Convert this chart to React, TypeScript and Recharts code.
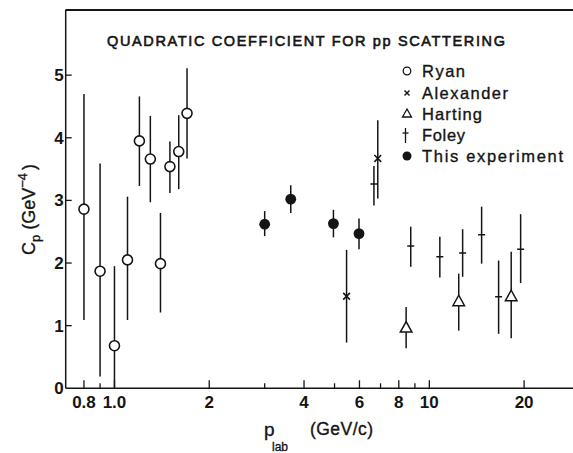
import React from 'react';
import { ScatterChart, Scatter, XAxis, YAxis, ErrorBar, ReferenceLine } from 'recharts';

// ---- data (p_lab in GeV/c, C_p in GeV^-4, error bar low / high) ----
const ryanP = [0.8, 0.9, 1.0, 1.1, 1.2, 1.3, 1.4, 1.5, 1.6, 1.7];
const ryanC = [2.86, 1.87, 0.68, 2.05, 3.95, 3.66, 1.99, 3.54, 3.78, 4.39];
const ryanLo = [1.09, 0.19, 0.0, 1.09, 3.23, 2.97, 1.21, 3.12, 3.18, 3.67];
const ryanHi = [4.7, 3.59, 1.95, 3.06, 4.66, 4.35, 2.8, 3.94, 4.36, 5.11];

const alexP = [5.46, 6.86];
const alexC = [1.47, 3.67];
const alexLo = [0.73, 3.03];
const alexHi = [2.21, 4.28];

const hartP = [8.44, 12.4, 18.2];
const hartC = [0.97, 1.39, 1.47];
const hartLo = [0.64, 0.92, 0.8];
const hartHi = [1.3, 1.83, 2.18];

const foleyP = [6.67, 8.73, 10.8, 12.76, 14.66, 16.6, 19.5];
const foleyC = [3.26, 2.27, 2.1, 2.16, 2.45, 1.46, 2.22];
const foleyLo = [2.92, 1.94, 1.77, 1.78, 1.99, 0.87, 1.68];
const foleyHi = [3.55, 2.58, 2.42, 2.54, 2.9, 2.04, 2.78];

const expP = [3.0, 3.63, 4.96, 5.98];
const expC = [2.62, 3.02, 2.63, 2.47];
const expLo = [2.43, 2.8, 2.41, 2.22];
const expHi = [2.83, 3.24, 2.85, 2.71];

const xDomain = [0.7, 28.6];
const yDomain = [0, 6.04];
const xTickValues = [0.8, 0.9, 1, 2, 3, 4, 5, 6, 7, 8, 9, 10, 20];
const xTickLabels = ['0.8', '', '1.0', '2', '', '4', '', '6', '', '8', '', '10', '20'];
const yTickValues = [0, 1, 2, 3, 4, 5];
const yTickLabels = ['0', '1', '2', '3', '4', '5'];

const legendNames = ['Ryan', 'Alexander', 'Harting', 'Foley', 'This experiment'];

const build = (p: number[], c: number[], lo: number[], hi: number[]) =>
  p.map((x, i) => ({ p: x, c: c[i], err: [c[i] - lo[i], hi[i] - c[i]] }));

const ryanData = build(ryanP, ryanC, ryanLo, ryanHi);
const alexData = build(alexP, alexC, alexLo, alexHi);
const hartData = build(hartP, hartC, hartLo, hartHi);
const foleyData = build(foleyP, foleyC, foleyLo, foleyHi);
const expData = build(expP, expC, expLo, expHi);

const INK = '#151515';
const FONT = '"Liberation Sans", Arial, sans-serif';

const labelFor = (v: number) => {
  const i = xTickValues.indexOf(v);
  return i >= 0 ? xTickLabels[i] : '';
};

const BottomTick = (props: any) => {
  const { x, y, payload } = props;
  const lab = labelFor(payload.value);
  const major = lab !== '';
  return (
    <g>
      <line x1={x} x2={x} y1={y} y2={y - (major ? 8 : 5)} stroke={INK} strokeWidth={1.3} />
      {major && (
        <text x={x} y={y + 20} textAnchor="middle" fontFamily={FONT} fontWeight="bold" fontSize={17} fill={INK}>
          {lab}
        </text>
      )}
    </g>
  );
};

const LeftTick = (props: any) => {
  const { x, y, payload } = props;
  const i = yTickValues.indexOf(payload.value);
  return (
    <g>
      {payload.value > 0 && <line x1={x} x2={x + 6} y1={y} y2={y} stroke={INK} strokeWidth={1.3} />}
      <text x={x - 2} y={y + 6} textAnchor="end" fontFamily={FONT} fontWeight="bold" fontSize={17} fill={INK}>
        {i >= 0 ? yTickLabels[i] : ''}
      </text>
    </g>
  );
};

const OpenCircle = (props: any) => (
  <circle cx={props.cx} cy={props.cy} r={5} fill="#fff" stroke={INK} strokeWidth={1.6} />
);
const FilledCircle = (props: any) => <circle cx={props.cx} cy={props.cy} r={5.4} fill={INK} stroke="none" />;
const Cross = (props: any) => {
  const { cx, cy } = props;
  const s = 3.4;
  return (
    <g stroke={INK} strokeWidth={1.6}>
      <line x1={cx - s} y1={cy - s} x2={cx + s} y2={cy + s} />
      <line x1={cx - s} y1={cy + s} x2={cx + s} y2={cy - s} />
    </g>
  );
};
const Triangle = (props: any) => {
  const { cx, cy } = props;
  return (
    <polygon
      points={`${cx},${cy - 6} ${cx - 5.8},${cy + 4.5} ${cx + 5.8},${cy + 4.5}`}
      fill="#fff"
      stroke={INK}
      strokeWidth={1.5}
    />
  );
};
const Dagger = (props: any) => {
  const { cx, cy } = props;
  return <line x1={cx - 3.5} x2={cx + 3.5} y1={cy} y2={cy} stroke={INK} strokeWidth={1.5} />;
};

const errProps = { dataKey: 'err', width: 0, stroke: INK, strokeWidth: 1.5, direction: 'y' as const };

export default function App() {
  const legendBase = [77, 99, 120, 141, 162];
  const legendWidths = [43, 86, 60, 43, 141];
  const heavy = { stroke: INK, strokeWidth: 0.35 };
  return (
    <div
      style={{
        position: 'absolute',
        left: 0,
        top: 0,
        width: 573,
        height: 453,
        overflow: 'hidden',
        background: '#fff',
      }}
    >
      <ScatterChart width={573} height={453} margin={{ top: 2, right: 0, bottom: 34.7, left: 0 }}>
        <XAxis
          xAxisId="b"
          dataKey="p"
          type="number"
          scale="log"
          domain={xDomain}
          allowDataOverflow
          ticks={xTickValues}
          interval={0}
          height={30}
          tickSize={0}
          tickMargin={0}
          tickLine={false}
          axisLine={{ stroke: INK, strokeWidth: 1.5 }}
          tick={<BottomTick />}
        />
        <XAxis
          xAxisId="t"
          orientation="top"
          dataKey="p"
          type="number"
          scale="log"
          domain={xDomain}
          allowDataOverflow
          ticks={xTickValues}
          height={8}
          stroke={INK}
          strokeWidth={1.5}
          tickSize={-6}
          tick={false}
        />
        <YAxis
          yAxisId="l"
          dataKey="c"
          type="number"
          domain={yDomain}
          allowDataOverflow
          ticks={yTickValues}
          interval={0}
          width={65.7}
          tickSize={0}
          tickMargin={0}
          tickLine={false}
          axisLine={{ stroke: INK, strokeWidth: 1.5 }}
          tick={<LeftTick />}
        />
        <ReferenceLine xAxisId="b" yAxisId="l" y={yDomain[1]} stroke={INK} strokeWidth={1.5} ifOverflow="visible" />
        <Scatter xAxisId="b" yAxisId="l" name="Ryan" data={ryanData} dataKey="c" shape={<OpenCircle />} isAnimationActive={false}>
          <ErrorBar {...errProps} />
        </Scatter>
        <Scatter xAxisId="b" yAxisId="l" name="Alexander" data={alexData} dataKey="c" shape={<Cross />} isAnimationActive={false}>
          <ErrorBar {...errProps} />
        </Scatter>
        <Scatter xAxisId="t" yAxisId="l" name="Harting" data={hartData} dataKey="c" shape={<Triangle />} isAnimationActive={false}>
          <ErrorBar {...errProps} />
        </Scatter>
        <Scatter xAxisId="t" yAxisId="l" name="Foley" data={foleyData} dataKey="c" shape={<Dagger />} isAnimationActive={false}>
          <ErrorBar {...errProps} />
        </Scatter>
        <Scatter xAxisId="b" yAxisId="l" name="This experiment" data={expData} dataKey="c" shape={<FilledCircle />} isAnimationActive={false}>
          <ErrorBar {...errProps} />
        </Scatter>
      </ScatterChart>
      <svg
        width={573}
        height={453}
        style={{ position: 'absolute', left: 0, top: 0, pointerEvents: 'none' }}
        fontFamily={FONT}
        fill={INK}
      >
        {/* top edge of the plot frame */}
        <line x1={65.7} x2={573} y1={10} y2={10} stroke={INK} strokeWidth={1.5} />
        <text x={107} y={46} fontSize={14.5} textLength={398} lengthAdjust="spacing" stroke={INK} strokeWidth={0.6}>
          QUADRATIC COEFFICIENT FOR pp SCATTERING
        </text>
        {/* legend */}
        <g>
          <circle cx={407} cy={legendBase[0] - 6} r={3.8} fill="#fff" stroke={INK} strokeWidth={1.3} />
          <g stroke={INK} strokeWidth={1.4}>
            <line x1={404.5} y1={legendBase[1] - 8.5} x2={409.5} y2={legendBase[1] - 3.5} />
            <line x1={404.5} y1={legendBase[1] - 3.5} x2={409.5} y2={legendBase[1] - 8.5} />
          </g>
          <polygon
            points={`407,${legendBase[2] - 11} 402.5,${legendBase[2] - 3} 411.5,${legendBase[2] - 3}`}
            fill="#fff"
            stroke={INK}
            strokeWidth={1.3}
          />
          <g stroke={INK} strokeWidth={1.3}>
            <line x1={405.5} x2={405.5} y1={legendBase[3] - 13} y2={legendBase[3] + 2} />
            <line x1={402.5} x2={408.5} y1={legendBase[3] - 8} y2={legendBase[3] - 8} />
          </g>
          <circle cx={407} cy={legendBase[4] - 6} r={4.5} fill={INK} />
          {legendNames.map((n, i) => (
            <text
              key={n}
              x={422}
              y={legendBase[i]}
              fontSize={16.5}
              textLength={legendWidths[i]}
              lengthAdjust="spacing"
              {...heavy}
            >
              {n}
            </text>
          ))}
        </g>
        {/* y axis title */}
        <text transform="translate(35,255) rotate(-90)" fontSize={18} {...heavy}>
          <tspan>C</tspan>
          <tspan dy={5} fontSize={13}>p</tspan>
          <tspan dy={-5} dx={5}>(GeV</tspan>
          <tspan dy={-8} fontSize={13}>−4</tspan>
          <tspan dy={8} dx={3}>)</tspan>
        </text>
        {/* x axis title */}
        <text x={264} y={436} fontSize={19} {...heavy}>p</text>
        <text x={272} y={451} fontSize={12} {...heavy}>lab</text>
        <text x={310} y={435} fontSize={17.5} textLength={63} lengthAdjust="spacing" {...heavy}>
          (GeV/c)
        </text>
      </svg>
    </div>
  );
}
